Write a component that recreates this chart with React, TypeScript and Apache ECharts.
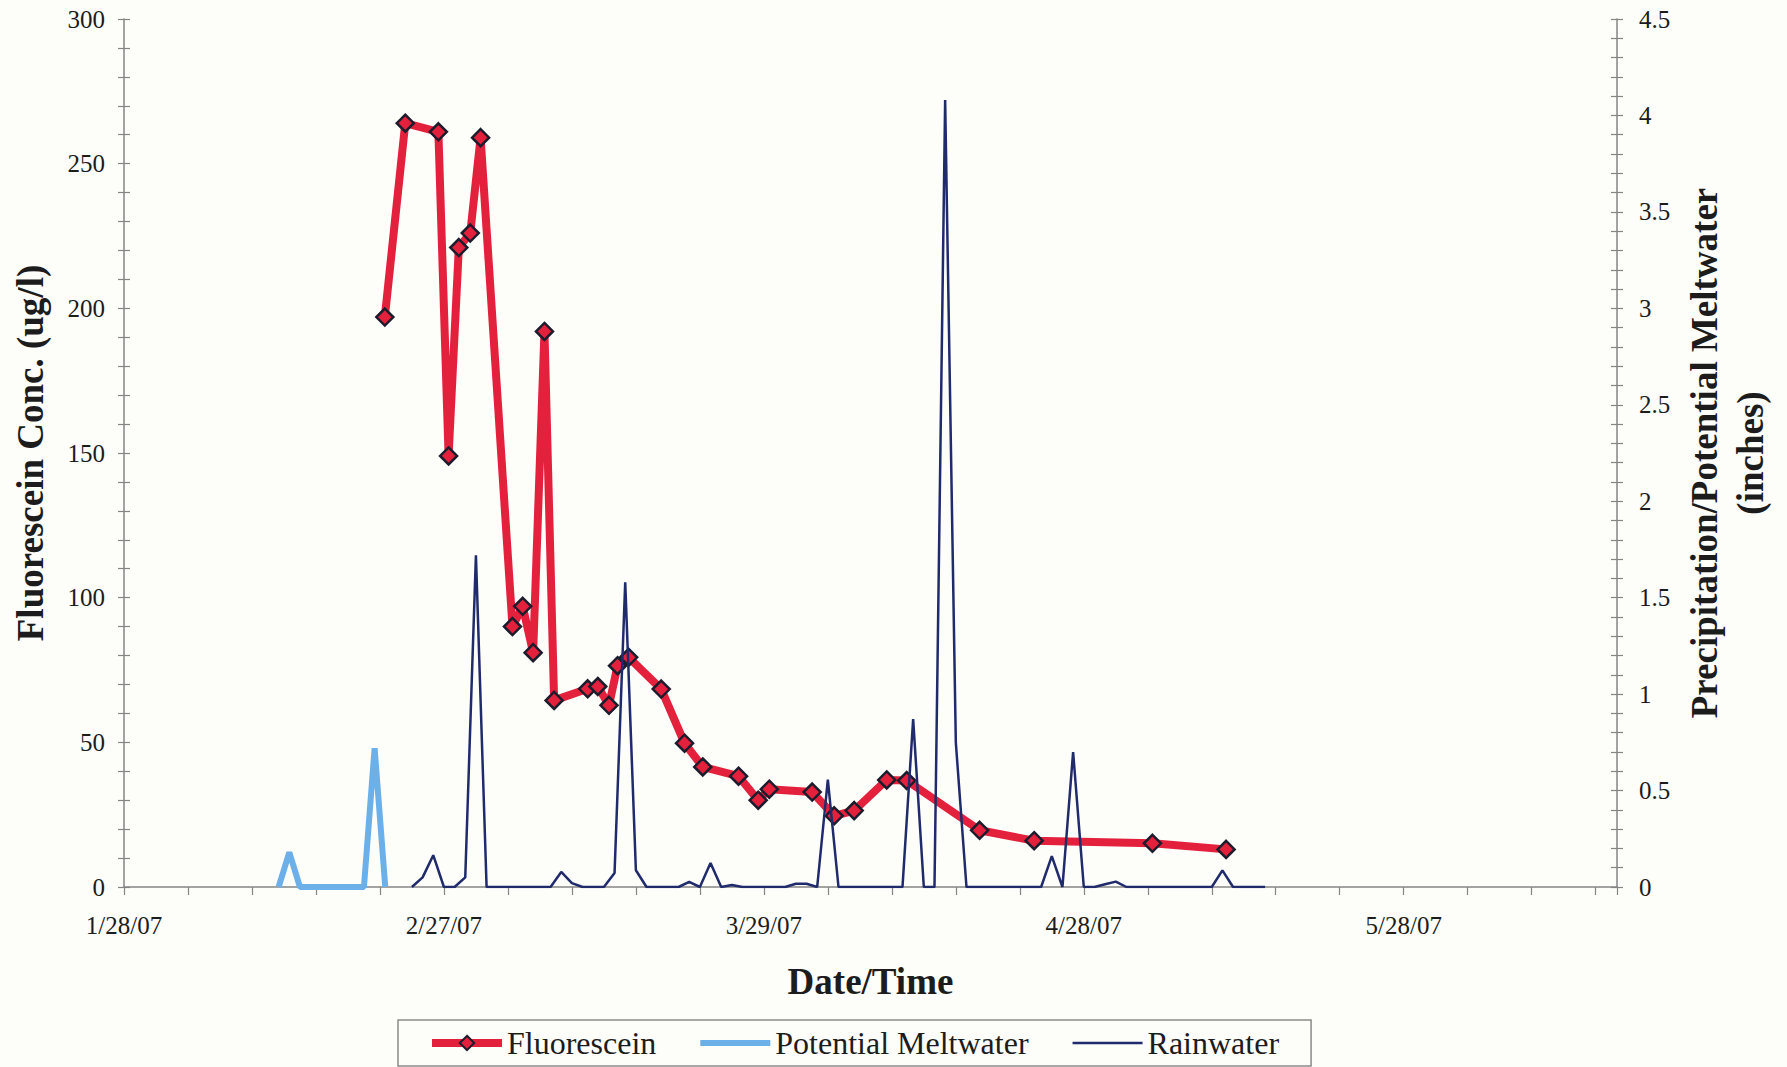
import React, { useEffect, useRef } from "react";
import * as echarts from "echarts";

// Date axis runs from 1/28/07 for 140 days; positions are days since this start.
const AXIS_START = "2007-01-28";
const dateLabels = ["1/28/07", "2/27/07", "3/29/07", "4/28/07", "5/28/07"];

// Fluorescein grab samples (ug/l)
const fluoresceinTimes = [
  "2007-02-21 11:00", "2007-02-23 09:00", "2007-02-26 11:30", "2007-02-27 10:30",
  "2007-02-28 09:30", "2007-03-01 11:15", "2007-03-02 10:30", "2007-03-05 10:15",
  "2007-03-06 09:15", "2007-03-07 08:45", "2007-03-08 10:15", "2007-03-09 08:00",
  "2007-03-12 11:30", "2007-03-13 10:15", "2007-03-14 11:30", "2007-03-15 06:45",
  "2007-03-16 07:45", "2007-03-19 09:00", "2007-03-21 13:30", "2007-03-23 06:30",
  "2007-03-26 15:00", "2007-03-28 11:15", "2007-03-29 12:15", "2007-04-02 12:45",
  "2007-04-04 14:15", "2007-04-06 11:15", "2007-04-09 12:30", "2007-04-11 09:30",
  "2007-04-18 05:30", "2007-04-23 08:15", "2007-05-04 10:30", "2007-05-11 08:15",
];
const fluoresceinConc = [
  197, 264, 261, 149, 221, 226, 259, 90,
  97, 81, 192, 64.5, 68.5, 69.3, 62.8, 76.5,
  79.4, 68.4, 49.7, 41.5, 38.3, 30, 33.8, 32.8,
  24.6, 26.4, 37, 36.8, 19.6, 16, 15.1, 13,
];

// Potential meltwater (inches), daily at noon
const meltwaterTimes = [
  "2007-02-11 12:00", "2007-02-12 12:00", "2007-02-13 12:00", "2007-02-14 12:00",
  "2007-02-15 12:00", "2007-02-16 12:00", "2007-02-17 12:00", "2007-02-18 12:00",
  "2007-02-19 12:00", "2007-02-20 12:00", "2007-02-21 12:00",
];
const meltwaterInches = [0, 0.18, 0, 0, 0, 0, 0, 0, 0, 0.72, 0];

// Daily rainfall (inches) from 2/24/07 through 5/15/07
const rainStart = "2007-02-24";
const rainInches = [
  0, 0.05, 0.165, 0, 0, 0.05, 1.72, 0, 0, 0,
  0, 0, 0, 0, 0.078, 0.02, 0, 0, 0, 0.073,
  1.58, 0.087, 0, 0, 0, 0, 0.026, 0, 0.125, 0,
  0.01, 0, 0, 0, 0, 0, 0.017, 0.017, 0, 0.557,
  0, 0, 0, 0, 0, 0, 0, 0.87, 0, 0,
  4.08, 0.75, 0, 0, 0, 0, 0, 0, 0, 0,
  0.16, 0, 0.7, 0, 0, 0.014, 0.028, 0, 0, 0,
  0, 0, 0, 0, 0, 0, 0.086, 0, 0, 0,
  0,
];

const DAY_MS = 86400000;

function toUTC(s: string): number {
  const [date, time = "00:00"] = s.split(" ");
  const [y, m, d] = date.split("-").map(Number);
  const [hh, mm] = time.split(":").map(Number);
  return Date.UTC(y, m - 1, d, hh, mm);
}

const startMs = toUTC(AXIS_START);
const dayOf = (s: string) => (toUTC(s) - startMs) / DAY_MS;

const SERIF = "Liberation Serif";
const TEXT = "#1c1c1c";
const AXIS_GRAY = "#858585";
const RED = "#E3213D";
const SKY = "#6CB0EA";
const NAVY = "#1F2B6B";

export default function App() {
  const ref = useRef<HTMLDivElement>(null);

  useEffect(() => {
    if (!ref.current) return;
    const chart = echarts.init(ref.current, null, { renderer: "svg" });

    const fluoresceinData = fluoresceinTimes.map((t, i) => [dayOf(t), fluoresceinConc[i]]);
    const meltData = meltwaterTimes.map((t, i) => [dayOf(t), meltwaterInches[i]]);
    const rainDay0 = dayOf(rainStart);
    const rainData = rainInches.map((v, i) => [rainDay0 + i, v]);

    const axisLine = { show: true, onZero: false, lineStyle: { color: AXIS_GRAY, width: 1.5 } };
    const tickLine = { color: AXIS_GRAY, width: 1.2 };
    const labelStyle = { fontFamily: SERIF, fontSize: 25, color: TEXT };
    const titleStyle = { fontFamily: SERIF, fontSize: 37, fontWeight: "bold" as const, color: TEXT };
    const legendText = { fontFamily: SERIF, fontSize: 32, color: TEXT };

    // Cross-style ticks: a second copy of each y axis draws the inner half
    const innerTicks = (position: "left" | "right", max: number, interval: number) => ({
      type: "value" as const,
      position,
      min: 0,
      max,
      interval,
      axisLine: { show: false, onZero: false },
      axisLabel: { show: false },
      splitLine: { show: false },
      axisTick: { show: true, inside: true, length: 6, lineStyle: tickLine },
      minorTick: { show: true, splitNumber: 5, length: 6, lineStyle: tickLine },
    });

    chart.setOption({
      animation: false,
      backgroundColor: "#FDFDF9",
      grid: { left: 124, right: 170, top: 19, bottom: 180, containLabel: false },
      legend: {
        left: 398,
        top: 1020,
        orient: "horizontal",
        padding: [7, 32, 7, 30],
        itemGap: 44,
        itemWidth: 70,
        itemHeight: 18,
        borderColor: "#8a8a8a",
        borderWidth: 1.5,
        textStyle: legendText,
        data: [
          { name: "Fluorescein", lineStyle: { width: 8 }, textStyle: legendText },
          { name: "Potential Meltwater", icon: "path://M0 0H70V6H0Z", textStyle: legendText },
          { name: "Rainwater", icon: "path://M0 0H70V2.5H0Z", textStyle: legendText },
        ],
      },
      xAxis: {
        type: "value",
        min: 0,
        max: 140,
        interval: 6,
        name: "Date/Time",
        nameLocation: "middle",
        nameGap: 76,
        nameTextStyle: titleStyle,
        axisLine,
        axisTick: { show: true, length: 8, lineStyle: tickLine },
        splitLine: { show: false },
        axisLabel: {
          ...labelStyle,
          margin: 26,
          formatter: (v: number) => {
            const k = Math.round(v / 30);
            return Math.abs(v - k * 30) < 1e-6 && dateLabels[k] ? dateLabels[k] : "";
          },
        },
      },
      yAxis: [
        {
          type: "value",
          position: "left",
          min: 0,
          max: 300,
          interval: 50,
          name: "Fluorescein Conc. (ug/l)",
          nameLocation: "middle",
          nameRotate: 90,
          nameGap: 75,
          nameTextStyle: titleStyle,
          axisLine,
          axisTick: { show: true, length: 6, lineStyle: tickLine },
          minorTick: { show: true, splitNumber: 5, length: 6, lineStyle: tickLine },
          splitLine: { show: false },
          axisLabel: { ...labelStyle, margin: 19 },
        },
        {
          type: "value",
          position: "right",
          min: 0,
          max: 4.5,
          interval: 0.5,
          name: "Precipitation/Potential Meltwater\n(inches)",
          nameLocation: "middle",
          nameRotate: 90,
          nameGap: 61,
          nameTextStyle: { ...titleStyle, lineHeight: 46 },
          axisLine,
          axisTick: { show: true, length: 6, lineStyle: tickLine },
          minorTick: { show: true, splitNumber: 5, length: 6, lineStyle: tickLine },
          splitLine: { show: false },
          axisLabel: { ...labelStyle, margin: 22 },
        },
        innerTicks("left", 300, 50),
        innerTicks("right", 4.5, 0.5),
      ],
      series: [
        {
          name: "Fluorescein",
          type: "line",
          yAxisIndex: 0,
          data: fluoresceinData,
          symbol: "diamond",
          symbolSize: 17,
          lineStyle: { color: RED, width: 8 },
          itemStyle: { color: RED, borderColor: "#1c1c2c", borderWidth: 2.5 },
          z: 2,
        },
        {
          name: "Potential Meltwater",
          type: "line",
          yAxisIndex: 1,
          data: meltData,
          symbol: "none",
          lineStyle: { color: SKY, width: 6 },
          itemStyle: { color: SKY },
          z: 3,
        },
        {
          name: "Rainwater",
          type: "line",
          yAxisIndex: 1,
          data: rainData,
          symbol: "none",
          lineStyle: { color: NAVY, width: 2.5 },
          itemStyle: { color: NAVY },
          z: 4,
        },
      ],
    });

    return () => chart.dispose();
  }, []);

  return (
    <div
      ref={ref}
      style={{ position: "absolute", left: 0, top: 0, width: "1787px", height: "1067px" }}
    />
  );
}
